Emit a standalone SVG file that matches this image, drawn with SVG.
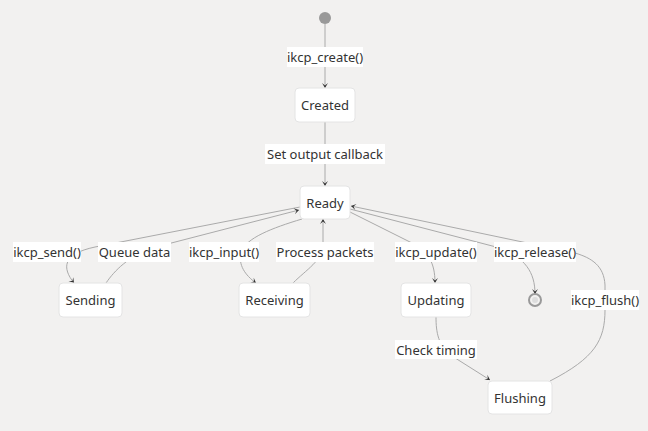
<svg xmlns="http://www.w3.org/2000/svg" width="648" height="431" viewBox="0 0 648 431">
<defs>
<style>
.bg{fill:#f2f1f0}
.node rect{fill:#ffffff;stroke:#e4e4e4;stroke-width:1}
.node text,.lbl text{font-family:"Noto Sans","Open Sans","Liberation Sans",sans-serif;font-size:13px;fill:#333;text-anchor:middle;dominant-baseline:central}
.edge{fill:none;stroke:#aaaaaa;stroke-width:1;marker-end:url(#arr)}
.lbl rect{fill:#ffffff}
</style>
<marker id="arr" viewBox="0 0 20 14" refX="19" refY="7" markerWidth="10" markerHeight="7" markerUnits="userSpaceOnUse" orient="auto">
<path d="M19,7 L9,13 L14,7 L9,1 Z" fill="#333"/>
</marker>
</defs>
<rect class="bg" width="648" height="431"/>
<g id="connectors">
<path class="edge" d="M325,24 L325,88"/>
<path class="edge" d="M325,122 L325,186"/>
<path class="edge" d="M300,207 L95,247 C62,254 62,268 74,283"/>
<path class="edge" d="M106,283 C115,270 128,257 152,248 L299,210"/>
<path class="edge" d="M302,219 C272,228 246,238 241,252 C238,265 245,275 256,283"/>
<path class="edge" d="M293,283 C306,270 323,260 323,245 L323,219"/>
<path class="edge" d="M350,212 L410,242 C428,251 435,262 435,283"/>
<path class="edge" d="M350,209 L500,248 C525,258 535,272 535,294"/>
<path class="edge" d="M550,381 C595,358 605,340 605,310 L605,285 C604,266 592,258 575,253 L351,206"/>
<path class="edge" d="M436,317 C436,332 438,346 452,356 L490,380"/>
</g>
<g id="start"><circle cx="325" cy="18" r="6" fill="#999"/></g>
<g id="end"><circle cx="535" cy="300" r="6" fill="#f2f1f0" stroke="#999" stroke-width="2"/><circle cx="535" cy="300" r="3" fill="#ddd"/></g>
<g id="Created" class="node"><rect x="295" y="88" width="60" height="34" rx="4"/><text x="325" y="105">Created</text></g>
<g id="Ready" class="node"><rect x="300" y="186" width="50" height="33" rx="4"/><text x="325" y="203">Ready</text></g>
<g id="Sending" class="node"><rect x="59" y="283" width="63" height="34" rx="4"/><text x="90.5" y="300">Sending</text></g>
<g id="Receiving" class="node"><rect x="239" y="283" width="71" height="34" rx="4"/><text x="274.5" y="300">Receiving</text></g>
<g id="Updating" class="node"><rect x="401" y="283" width="70" height="34" rx="4"/><text x="436" y="300">Updating</text></g>
<g id="Flushing" class="node"><rect x="488" y="381" width="64" height="33" rx="4"/><text x="520" y="398">Flushing</text></g>
<g id="labels">
<g class="lbl"><rect x="287" y="47" width="76" height="20"/><text x="325" y="57">ikcp_create()</text></g>
<g class="lbl"><rect x="265" y="144" width="120" height="20"/><text x="325" y="154">Set output callback</text></g>
<g class="lbl"><rect x="13" y="242" width="68" height="20"/><text x="47" y="252">ikcp_send()</text></g>
<g class="lbl"><rect x="98" y="242" width="73" height="20"/><text x="134.5" y="252">Queue data</text></g>
<g class="lbl"><rect x="189" y="242" width="70" height="20"/><text x="224" y="252">ikcp_input()</text></g>
<g class="lbl"><rect x="276" y="242" width="98" height="20"/><text x="325" y="252">Process packets</text></g>
<g class="lbl"><rect x="395" y="242" width="82" height="20"/><text x="436" y="252">ikcp_update()</text></g>
<g class="lbl"><rect x="494" y="242" width="82" height="20"/><text x="535" y="252">ikcp_release()</text></g>
<g class="lbl"><rect x="571" y="290" width="68" height="20"/><text x="605" y="300">ikcp_flush()</text></g>
<g class="lbl"><rect x="395" y="340" width="82" height="19"/><text x="436" y="349.5">Check timing</text></g>
</g>
</svg>
